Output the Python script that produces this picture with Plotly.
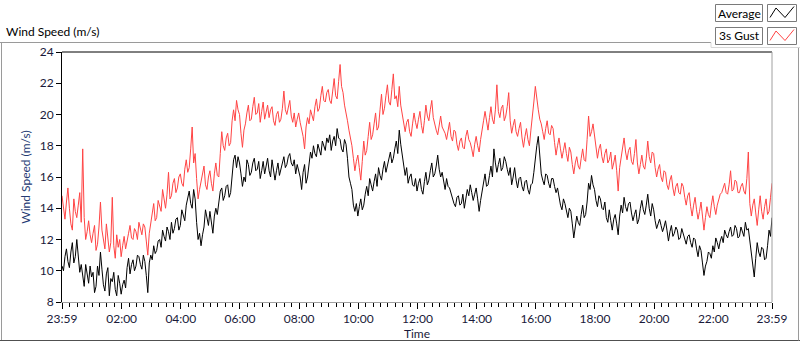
import plotly.graph_objects as go

# ---------------- data ----------------
# sample times in minutes after midnight (-1 = 23:59 of the previous day), 3-minute samples
sample_step_min = 3
start_min = -1
tick_vals = [-1, 120, 240, 360, 480, 600, 720, 840, 960, 1080, 1200, 1320, 1439]
tick_text = ["23:59", "02:00", "04:00", "06:00", "08:00", "10:00", "12:00",
             "14:00", "16:00", "18:00", "20:00", "22:00", "23:59"]
y_ticks = [8, 10, 12, 14, 16, 18, 20, 22, 24]

average = [
    10.3, 10.0, 10.9, 11.4, 10.6, 10.2, 11.2, 11.8, 10.5, 10.9, 12.0, 10.6, 9.9, 10.4, 9.5, 9.0, 10.4, 9.9, 9.2, 10.3,
    9.6, 9.9, 8.6, 9.0, 10.3, 9.7, 11.2, 10.1, 9.1, 8.7, 9.8, 10.2, 8.4, 9.5, 9.3, 9.9, 8.8, 8.4, 9.7, 9.2,
    8.5, 9.1, 9.4, 8.9, 10.2, 10.8, 9.8, 10.4, 10.7, 10.0, 10.3, 11.0, 10.9, 10.4, 10.1, 11.0, 10.6, 9.7, 8.6, 10.5,
    11.0, 10.7, 11.6, 11.1, 11.3, 11.9, 12.0, 11.5, 12.6, 12.2, 11.9, 12.8, 12.5, 12.0, 13.1, 12.4, 12.7, 13.3, 13.4, 12.6,
    12.9, 13.9, 13.6, 13.2, 14.2, 14.7, 15.1, 14.3, 14.0, 15.2, 14.6, 13.1, 12.0, 12.4, 11.6, 12.3, 12.8, 13.9, 13.5, 12.9,
    13.8, 13.1, 12.4, 13.5, 14.0, 13.6, 14.6, 15.1, 15.3, 14.5, 14.8, 15.4, 15.5, 14.7, 15.0, 16.2, 17.1, 17.4, 16.6, 17.3,
    16.9, 16.2, 15.4, 16.0, 15.7, 17.1, 16.8, 16.1, 16.3, 16.9, 17.2, 16.4, 16.5, 17.0, 15.9, 16.4, 17.0, 16.2, 16.6, 17.2,
    16.4, 16.0, 17.1, 16.5, 15.8, 16.4, 16.9, 16.1, 16.5, 17.0, 17.3, 16.6, 16.8, 17.3, 17.5, 16.9, 16.7, 17.1, 16.2, 16.8,
    16.4, 16.0, 15.2, 16.3, 16.8, 15.6, 16.0, 16.9, 17.6, 17.2, 18.0, 17.5, 17.3, 18.1, 17.8, 17.4, 18.3, 18.0, 17.7, 18.5,
    18.2, 18.7, 17.7, 18.3, 18.6, 18.0, 19.1, 18.5, 18.4, 17.8, 17.6, 18.4, 18.1, 17.2, 16.0, 15.6, 15.2, 14.2, 13.8, 14.3,
    13.5, 14.1, 14.6, 13.9, 14.2, 14.9, 15.4, 14.8, 15.9, 15.5, 15.1, 15.7, 16.2, 15.4, 16.6, 16.1, 15.8, 16.5, 17.0, 16.3,
    16.8, 17.3, 17.6, 16.9, 17.2, 17.8, 18.3, 17.5, 19.0, 18.1, 17.4, 16.8, 16.1, 16.6, 15.6, 16.0, 16.2, 15.5, 15.4, 15.9,
    15.1, 15.6, 15.9, 15.2, 14.9, 15.7, 16.3, 15.5, 15.8, 16.4, 16.9, 16.0, 16.2, 16.7, 17.4, 16.5, 16.0, 16.3, 15.6, 15.2,
    15.9, 15.4, 15.3, 14.9, 14.6, 14.3, 14.1, 14.7, 14.8, 14.2, 14.3, 14.9, 14.0, 14.5, 15.2, 14.8, 15.5, 15.0, 14.5, 14.9,
    15.3, 14.6, 13.8, 14.5, 15.0, 15.7, 16.2, 15.4, 15.5, 16.1, 16.7, 16.0, 17.8, 16.9, 16.3, 16.8, 17.2, 16.4, 16.6, 17.3,
    17.0, 16.5, 16.1, 16.6, 15.5, 16.0, 16.6, 15.8, 15.3, 15.9, 16.0, 15.4, 15.1, 15.7, 15.8, 15.2, 14.9, 15.5, 15.6, 16.3,
    17.4, 18.0, 18.6, 17.2, 16.2, 15.8, 15.5, 16.2, 16.1, 15.6, 15.3, 15.9, 15.9, 15.4, 15.0, 15.3, 14.6, 14.2, 13.9, 14.6,
    14.3, 13.8, 13.4, 14.0, 13.8, 13.0, 12.1, 12.8, 13.5, 13.1, 12.9, 13.6, 14.2, 13.4, 13.6, 14.4, 15.6, 15.2, 16.1, 15.5,
    15.2, 14.5, 14.1, 14.8, 14.6, 14.0, 13.9, 14.4, 13.4, 13.1, 13.9, 13.2, 12.6, 13.3, 13.6, 13.0, 12.3, 13.5, 14.2, 13.7,
    14.7, 14.1, 13.8, 14.3, 14.4, 13.7, 13.2, 13.6, 13.9, 13.0, 13.3, 14.0, 14.5, 13.9, 13.6, 14.2, 14.9, 14.0, 13.5, 14.3,
    13.9, 13.2, 12.7, 13.0, 13.3, 12.9, 12.5, 12.8, 13.2, 12.6, 11.9, 12.5, 12.9, 12.2, 12.4, 12.8, 12.6, 12.0, 12.1, 12.7,
    12.4, 12.0, 11.7, 12.2, 12.3, 11.8, 11.5, 12.1, 12.0, 11.4, 10.9, 11.6, 11.3, 10.5, 9.7, 10.3, 10.6, 11.2, 11.1, 10.8,
    11.6, 11.2, 12.1, 11.8, 11.4, 11.9, 12.2, 11.8, 12.6, 12.3, 12.1, 12.5, 12.8, 12.2, 12.3, 12.9, 12.7, 12.1, 12.2, 12.8,
    12.5, 12.2, 13.1, 12.6, 12.7, 12.0, 11.2, 10.3, 9.6, 10.8, 11.8, 11.2, 10.9, 11.5, 11.4, 10.7, 10.8, 11.6, 12.6, 12.2,
    13.4,
]

gust_3s = [
    14.8, 13.9, 13.3, 14.4, 15.3, 14.0, 13.0, 12.6, 14.6, 13.8, 13.4, 14.2, 15.0, 13.1, 17.8, 13.4, 12.0, 12.5, 13.2, 12.3,
    11.8, 12.4, 12.9, 11.3, 11.7, 12.8, 14.4, 12.6, 12.1, 11.4, 13.0, 11.9, 11.2, 11.8, 14.7, 11.6, 10.8, 12.3, 11.5, 12.0,
    10.9, 11.6, 12.2, 11.4, 11.8, 12.4, 12.9, 12.1, 12.0, 12.7, 12.5, 12.0, 13.1, 12.6, 12.3, 13.0, 12.8, 11.9, 11.0, 12.4,
    13.0, 13.7, 14.3, 13.2, 13.4, 14.5, 14.1, 13.8, 15.2, 14.4, 14.0, 14.9, 16.3, 14.6, 14.8, 15.6, 15.9, 15.0, 15.3, 16.0,
    16.2, 15.6, 15.4, 16.5, 17.1, 16.3, 16.6, 17.8, 19.2, 16.9, 17.5, 15.9, 14.6, 15.2, 15.8, 16.4, 16.7, 15.5, 15.2, 16.0,
    16.4, 15.6, 15.1, 16.2, 16.9, 16.1, 16.0, 17.5, 18.9, 18.0, 17.7, 18.5, 18.8, 18.0, 18.2, 19.6, 20.3, 19.6, 20.9, 20.3,
    20.0, 18.8, 17.9, 19.0, 19.4, 20.1, 20.6, 19.6, 19.7, 20.5, 21.1, 20.0, 20.1, 20.7, 19.5, 20.2, 20.8, 19.7, 20.2, 20.6,
    19.8, 20.3, 20.5, 19.6, 19.3, 20.0, 20.2, 19.5, 19.7, 20.4, 21.5, 20.3, 20.0, 20.6, 20.9, 19.9, 19.5, 20.1, 19.2, 19.7,
    20.1, 19.5, 19.0, 18.6, 17.8, 19.2, 19.8, 19.4, 20.3, 20.0, 19.6, 20.5, 21.0, 20.2, 20.4, 21.2, 21.8, 20.9, 20.8, 21.4,
    21.6, 20.9, 20.7, 21.5, 22.3, 21.2, 21.0, 22.1, 23.2, 21.8, 21.4, 20.6, 20.2, 19.6, 19.0, 18.5, 18.0, 17.2, 16.4, 17.0,
    17.4, 16.6, 15.8, 17.0, 18.3, 17.4, 17.7, 18.6, 19.5, 18.4, 18.7, 19.4, 20.1, 19.0, 19.2, 20.3, 21.3, 20.0, 20.4, 21.2,
    21.9, 20.8, 20.6, 21.6, 22.6, 21.0, 21.2, 20.5, 21.8, 20.6, 20.0, 19.3, 18.9, 19.5, 19.7, 18.9, 18.6, 19.4, 20.1, 19.5,
    19.1, 19.7, 20.2, 19.3, 18.8, 19.6, 20.6, 19.9, 19.6, 20.3, 20.9, 19.8, 19.3, 19.0, 18.7, 19.4, 19.9, 19.2, 19.0, 18.8,
    18.4, 18.9, 19.5, 18.6, 18.3, 19.0, 18.9, 18.1, 17.7, 18.3, 18.5, 17.9, 17.8, 18.6, 19.0, 18.4, 18.2, 17.8, 17.3, 18.1,
    18.6, 18.0, 17.6, 18.4, 18.9, 19.6, 20.2, 19.4, 19.0, 19.8, 20.5, 19.7, 19.4, 20.3, 21.9, 20.2, 19.8, 20.4, 20.6, 19.6,
    19.9, 20.5, 21.4, 19.6, 18.8, 19.3, 19.7, 18.9, 18.6, 19.1, 19.5, 18.5, 17.9, 18.6, 19.1, 18.4, 18.0, 19.0, 20.2, 20.8,
    21.8, 20.9, 20.3, 19.7, 19.4, 18.9, 18.4, 19.1, 19.6, 18.8, 18.7, 19.3, 19.1, 18.2, 17.4, 18.0, 18.5, 17.8, 17.2, 17.7,
    18.2, 17.5, 17.0, 17.9, 17.6, 16.8, 16.2, 16.9, 17.3, 16.7, 16.5, 17.2, 17.8, 17.1, 17.0, 18.4, 19.9, 18.6, 18.9, 19.4,
    18.6, 17.7, 17.2, 17.8, 18.1, 17.3, 16.9, 17.5, 17.8, 16.9, 17.1, 17.6, 16.5, 16.9, 17.4, 16.4, 15.1, 16.6, 17.3, 17.9,
    18.5, 17.6, 17.1, 17.7, 17.9, 17.0, 16.8, 17.5, 18.4, 16.9, 16.2, 16.8, 17.4, 16.7, 16.5, 17.2, 18.3, 17.3, 16.9, 17.6,
    17.5, 16.6, 16.0, 16.5, 16.8, 16.0, 15.7, 16.4, 16.3, 15.5, 15.2, 15.8, 16.1, 15.3, 14.8, 15.4, 15.6, 15.0, 14.9, 15.6,
    15.4, 14.7, 14.2, 14.8, 15.0, 14.1, 13.5, 14.2, 14.7, 13.9, 13.3, 13.8, 14.4, 13.5, 12.6, 13.4, 14.1, 13.6, 13.4, 14.2,
    14.8, 14.1, 13.6, 14.2, 14.5, 14.9, 15.0, 15.4, 15.6, 15.0, 14.9, 15.5, 16.4, 15.1, 15.2, 15.8, 15.7, 15.0, 15.0, 15.4,
    15.6, 15.1, 14.9, 15.9, 17.6, 14.3, 13.5, 14.2, 14.6, 13.7, 12.9, 13.9, 14.8, 13.8, 13.3, 14.1, 14.6, 13.6, 13.8, 14.7,
    15.6,
]

times = [start_min + sample_step_min * i for i in range(len(average))]

# ---------------- layout helpers ----------------
W, H = 800, 342
L, R, T, B = 62, 772, 52, 302


def px(x):
    return (x - L) / (R - L)


def py(y):
    return (B - y) / (B - T)


FONT = "Segoe UI, Lato, Noto Sans, sans-serif"
AVG_COLOR = "#000000"
GUST_COLOR = "#ff4444"

fig = go.Figure()
fig.add_trace(go.Scatter(x=times, y=gust_3s, mode="lines", name="3s Gust",
                         line=dict(color=GUST_COLOR, width=1)))
fig.add_trace(go.Scatter(x=times, y=average, mode="lines", name="Average",
                         line=dict(color=AVG_COLOR, width=1)))

minor_vals = [m for m in range(0, 1440, 15) if m % 120 != 0]

fig.update_layout(
    width=W, height=H,
    margin=dict(l=L, r=W - R, t=T, b=H - B, pad=0),
    paper_bgcolor="white", plot_bgcolor="white",
    showlegend=False,
    font=dict(family=FONT, size=12, color="#1a1a3a"),
    xaxis=dict(
        range=[-1, 1439], tickmode="array", tickvals=tick_vals, ticktext=tick_text,
        ticks="outside", ticklen=6, tickwidth=1, tickcolor="black",
        showline=True, linecolor="#a0a0a0", linewidth=1,
        showgrid=False, zeroline=False, automargin=False,
        tickfont=dict(family=FONT, size=12, color="#1a1a3a"),
        minor=dict(tickmode="array", tickvals=minor_vals, ticks="outside",
                   ticklen=4, tickcolor="black", tickwidth=1, showgrid=False),
        title=dict(text="Time", font=dict(family=FONT, size=12, color="#1a1a3a"), standoff=4),
    ),
    yaxis=dict(
        range=[8, 24], tickmode="array", tickvals=y_ticks,
        ticks="outside", ticklen=5, tickwidth=1, tickcolor="black",
        showline=True, linecolor="black", linewidth=1,
        showgrid=False, zeroline=False, automargin=False,
        tickfont=dict(family=FONT, size=12, color="#1a1a3a"),
        title=dict(text="Wind Speed (m/s)", font=dict(family=FONT, size=12, color="#243a73"), standoff=6),
    ),
)

shapes = []
# plot area top (black) and right (grey) borders
shapes.append(dict(type="line", xref="paper", yref="paper", x0=0, x1=1, y0=1, y1=1,
                   line=dict(color="black", width=1)))
shapes.append(dict(type="line", xref="paper", yref="paper", x0=1, x1=1, y0=0, y1=1,
                   line=dict(color="#a0a0a0", width=1)))
# outer frame
frame_grey = "#9a9a9a"
shapes.append(dict(type="line", xref="paper", yref="paper", x0=px(0), x1=px(711), y0=py(42.5), y1=py(42.5),
                   line=dict(color=frame_grey, width=1)))
shapes.append(dict(type="line", xref="paper", yref="paper", x0=px(1.5), x1=px(1.5), y0=py(42.5), y1=py(340.5),
                   line=dict(color=frame_grey, width=1)))
shapes.append(dict(type="line", xref="paper", yref="paper", x0=px(0), x1=px(800), y0=py(340.5), y1=py(340.5),
                   line=dict(color="#505050", width=1)))
shapes.append(dict(type="line", xref="paper", yref="paper", x0=px(798.5), x1=px(798.5), y0=py(47.5), y1=py(340.5),
                   line=dict(color=frame_grey, width=1)))
shapes.append(dict(type="line", xref="paper", yref="paper", x0=px(711), x1=px(800), y0=py(47.5), y1=py(47.5),
                   line=dict(color="#d8d8d8", width=1)))
shapes.append(dict(type="line", xref="paper", yref="paper", x0=px(711), x1=px(711), y0=py(42.5), y1=py(47.5),
                   line=dict(color="#d8d8d8", width=1)))

# custom legend boxes
legend_rows = [("Average", AVG_COLOR, 4.5), ("3s Gust", GUST_COLOR, 27.5)]
annotations = []
for name, color, top in legend_rows:
    bottom = top + 17
    shapes.append(dict(type="rect", xref="paper", yref="paper",
                       x0=px(715.5), x1=px(762.5), y0=py(bottom), y1=py(top),
                       line=dict(color="#7a7a7a", width=1), fillcolor="white"))
    shapes.append(dict(type="rect", xref="paper", yref="paper",
                       x0=px(767.5), x1=px(796.5), y0=py(bottom), y1=py(top),
                       line=dict(color="#7a7a7a", width=1), fillcolor="white"))
    path = "M {},{} L {},{} L {},{} L {},{}".format(
        px(770), py(top + 13), px(776), py(top + 3.5),
        px(785), py(top + 13), px(794), py(top + 2))
    shapes.append(dict(type="path", xref="paper", yref="paper", path=path,
                       line=dict(color=color, width=1)))
    annotations.append(dict(text=name, xref="paper", yref="paper",
                            x=px(739), y=py(top + 8.5), xanchor="center", yanchor="middle",
                            showarrow=False, font=dict(family=FONT, size=12, color="black")))

annotations.append(dict(text="Wind Speed (m/s)", xref="paper", yref="paper",
                        x=px(4), y=py(32), xanchor="left", yanchor="middle",
                        showarrow=False, font=dict(family=FONT, size=12, color="black")))

fig.update_layout(shapes=shapes, annotations=annotations)

fig.write_html("out.html", config={"displayModeBar": False},
               post_script="document.body.style.margin='0px';document.body.style.padding='0px';")
